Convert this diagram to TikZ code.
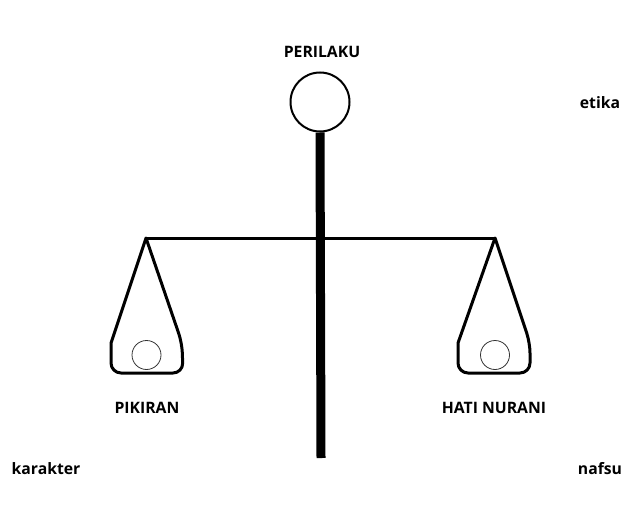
\documentclass[tikz,border=0pt]{standalone}
\usepackage{fontspec}
\setmainfont{Open Sans}
\usepackage{tikz}
\usetikzlibrary{positioning}

\begin{document}
\begin{tikzpicture}[x=1bp, y=-1bp,
  lbl/.style={font=\fontsize{15.8}{18}\selectfont\bfseries},
  pan/.style={line width=3bp, line join=round},
  ball/.style={draw, circle, black!80, line width=0.8bp, minimum size=29bp, inner sep=0pt}]
\useasboundingbox (0,0) rectangle (630,515);
% kepala dan tiang
\node[draw, circle, line width=2bp, minimum size=59bp, inner sep=0pt] (head) at (320,102) {};
\node[lbl] (perilaku) at (322,52) {PERILAKU};
\coordinate (poleend) at (321,458);
\coordinate (lpivot) at (146,238);
\coordinate (rpivot) at (495,238);
\draw[line width=3bp] (lpivot) -- (rpivot);
\draw[line width=9bp] (head.south) -- (poleend);
% piring kiri
\draw[pan] (lpivot) -- (111,343) [rounded corners=10bp] -- (111,373) -- (183,373) -- (182,343) [sharp corners] -- cycle;
\node[ball] (pikiranball) at (146.5,355) {};
\node[lbl] (pikiran) at (147,408) {PIKIRAN};
% piring kanan
\draw[pan] (rpivot) -- (458,343) [rounded corners=10bp] -- (458,373) -- (530,373) -- (530,343) [sharp corners] -- cycle;
\node[ball] (hatiball) at (495,355) {};
\node[lbl] (hati) at (494,408) {HATI NURANI};
% kata di pinggir
\node[lbl] (etika) at (600,103) {etika};
\node[lbl] (karakter) at (46,469) {karakter};
\node[lbl] (nafsu) at (600,469) {nafsu};
\end{tikzpicture}
\end{document}
